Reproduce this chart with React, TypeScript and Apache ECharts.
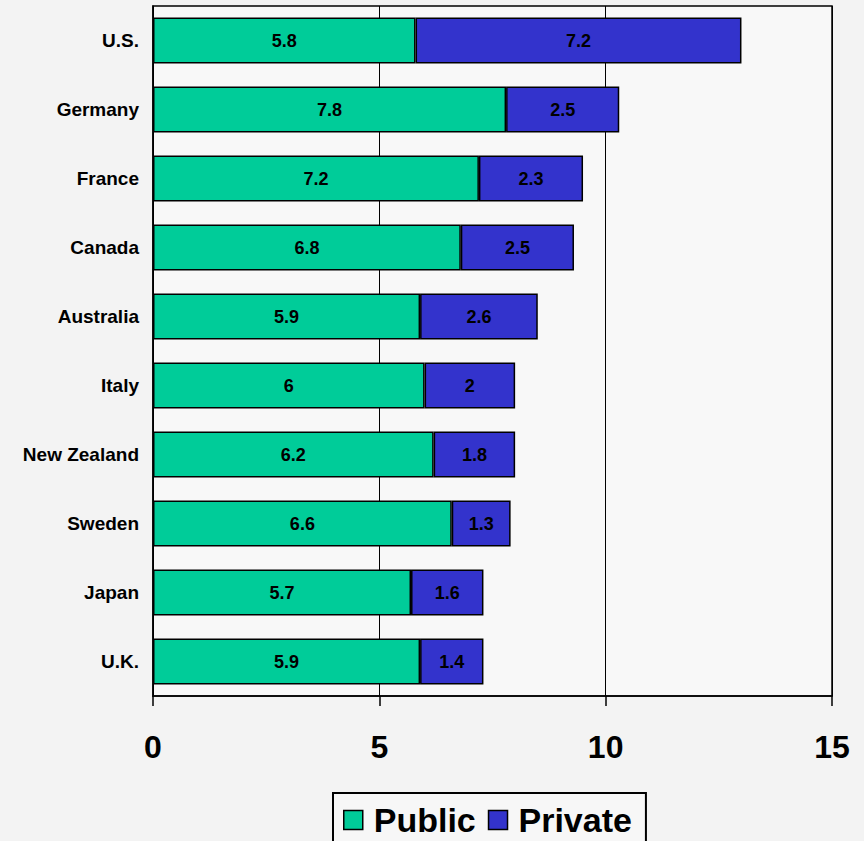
import React, { useEffect, useRef } from "react";
import * as echarts from "echarts";

const countries = ["U.S.", "Germany", "France", "Canada", "Australia", "Italy", "New Zealand", "Sweden", "Japan", "U.K."];
const publicSpend = [5.8, 7.8, 7.2, 6.8, 5.9, 6, 6.2, 6.6, 5.7, 5.9];
const privateSpend = [7.2, 2.5, 2.3, 2.5, 2.6, 2, 1.8, 1.3, 1.6, 1.4];

const FONT = "'Liberation Sans', Arial, sans-serif";

export default function App() {
  const ref = useRef<HTMLDivElement>(null);

  useEffect(() => {
    if (!ref.current) return;
    const chart = echarts.init(ref.current, undefined, { renderer: "svg" });
    const label = {
      show: true,
      position: "inside" as const,
      color: "#000",
      fontFamily: FONT,
      fontWeight: "bold" as const,
      fontSize: 18,
    };
    chart.setOption({
      animation: false,
      backgroundColor: "#f3f3f3",
      textStyle: { fontFamily: FONT },
      grid: {
        left: 153,
        right: 32,
        top: 6,
        bottom: 145,
        show: true,
        backgroundColor: "#f8f8f8",
        borderColor: "#000",
        borderWidth: 1.5,
      },
      xAxis: {
        type: "value",
        min: 0,
        max: 15,
        interval: 5,
        axisLine: { show: true, lineStyle: { color: "#000", width: 1.5 } },
        axisTick: { show: true, length: 10, lineStyle: { color: "#000", width: 1.5 } },
        splitLine: { show: true, lineStyle: { color: "#000", width: 1 } },
        axisLabel: {
          color: "#000",
          fontFamily: FONT,
          fontWeight: "bold",
          fontSize: 32,
          margin: 35,
        },
      },
      yAxis: {
        type: "category",
        data: countries,
        inverse: true,
        axisLine: { show: true, lineStyle: { color: "#000", width: 1.5 } },
        axisTick: { show: false },
        axisLabel: {
          color: "#000",
          fontFamily: FONT,
          fontWeight: "bold",
          fontSize: 19,
          margin: 14,
        },
      },
      legend: {
        bottom: -26,
        left: 333,
        orient: "horizontal",
        backgroundColor: "#f7f7f7",
        borderColor: "#000",
        borderWidth: 2,
        padding: [10, 14, 30, 10],
        itemWidth: 19,
        itemHeight: 19,
        itemGap: 12,
        icon: "rect",
        textStyle: {
          color: "#000",
          fontFamily: FONT,
          fontWeight: "bold",
          fontSize: 34,
          lineHeight: 34,
          padding: [0, 0, 0, 6],
        },
        itemStyle: { borderColor: "#000", borderWidth: 1.5 },
        data: ["Public", "Private"],
      },
      series: [
        {
          name: "Public",
          type: "bar",
          stack: "total",
          data: publicSpend,
          barCategoryGap: "33%",
          itemStyle: { color: "#00cc99", borderColor: "#000", borderWidth: 1.5 },
          label,
        },
        {
          name: "Private",
          type: "bar",
          stack: "total",
          data: privateSpend,
          barCategoryGap: "33%",
          itemStyle: { color: "#3333cc", borderColor: "#000", borderWidth: 1.5 },
          label,
        },
      ],
    });
    return () => chart.dispose();
  }, []);

  return (
    <div
      ref={ref}
      style={{ position: "fixed", left: 0, top: 0, width: 864, height: 841 }}
    />
  );
}
